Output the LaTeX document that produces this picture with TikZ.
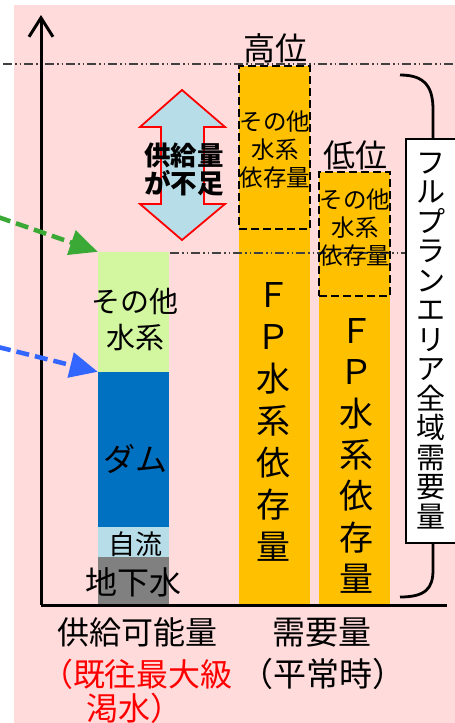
\documentclass[tikz,border=0pt]{standalone}
\usepackage{fontspec}
\setmainfont{Noto Sans CJK JP}
\usetikzlibrary{arrows.meta}
\definecolor{bgpink}{HTML}{FFDBDB}
\definecolor{lgreen}{HTML}{D3F6A0}
\definecolor{damblue}{HTML}{0070C0}
\definecolor{lblue}{HTML}{B7DEE8}
\definecolor{gwater}{HTML}{808080}
\definecolor{fporange}{HTML}{FFC000}
\definecolor{garr}{HTML}{3AA935}
\definecolor{barr}{HTML}{3366FF}
\definecolor{ddline}{HTML}{404040}
\tikzset{
  bar/.style={draw=none, inner sep=0pt, minimum width=71pt},
  dbox/.style={draw=black, dash pattern=on 8pt off 4pt, line width=1.8pt, inner sep=0pt, minimum width=71pt},
  dashdot/.style={draw=ddline, line width=1.1pt, dash pattern=on 9pt off 3pt on 1.5pt off 3pt on 1.5pt off 3pt},
  axisline/.style={line width=3pt, black},
  brk/.style={line width=2.8pt, black},
  ptr/.style={line width=4.5pt, dash pattern=on 13pt off 6pt, -{Triangle[length=28pt,width=25pt]}},
  lbl/.style={inner sep=0pt, align=center},
}
\begin{document}
\begin{tikzpicture}[x=1pt,y=-1pt]
\useasboundingbox (0,0) rectangle (455,723);
\fill[bgpink] (14,5) rectangle (455,723);

% supply bar
\node[bar, fill=lgreen, minimum height=120pt] (oth) at (133.5,312) {};
\node[bar, fill=damblue, minimum height=155pt] (dam) at (133.5,449.5) {};
\node[bar, fill=lblue, minimum height=30pt] (jiryu) at (133.5,542) {};
\node[bar, fill=gwater, minimum height=48pt] (gw) at (133.5,581) {};

% demand bars
\node[bar, fill=fporange, minimum height=539pt] (hibar) at (274.5,335.5) {};
\node[bar, fill=fporange, minimum height=433pt] (lobar) at (354.5,388.5) {};
\node[dbox, minimum height=163pt] (hibox) at (274.5,147.5) {};
\node[dbox, minimum height=124pt] (lobox) at (354.5,234) {};

% dash-dot level lines
\coordinate (l1a) at (3,64);
\coordinate (l1b) at (455,64);
\coordinate (l2a) at (170,253);
\coordinate (l2b) at (455,253);
\draw[dashdot] (l1a) -- (l1b);
\draw[dashdot] (l2a) -- (l2b);

% axes
\coordinate (O) at (41,605);
\coordinate (ytop) at (41,15);
\coordinate (xend) at (447,605);
\draw[axisline, -{Straight Barb[length=19pt,width=24pt,line width=3pt]}] (O) -- (ytop);
\draw[axisline] (O) -- (xend);

% double arrow (shortage)
\draw[red, line width=1.8pt, fill=lblue, line join=miter]
  (182,90) -- (225,127) -- (204,127) -- (204,204) -- (225,204) -- (182,240)
  -- (140,204) -- (161,204) -- (161,127) -- (140,127) -- cycle;
\node[lbl, font=\fontsize{26.5}{28}\selectfont\bfseries] (short) at (184,169) {供給量\\が不足};

% pointer arrows
\coordinate (gs) at (-2,217);
\coordinate (bs) at (-2,347);
\draw[ptr, garr] (gs) -- (oth.north west);
\draw[ptr, barr] (bs) -- (dam.north west);

% bracket and box
\node[draw=black, fill=white, line width=1.8pt, minimum width=54pt, minimum height=404pt, inner sep=0pt] (fpbox) at (433,341) {};
\coordinate (b1) at (400,75);
\coordinate (b2) at (400,597);
\draw[brk] (b1) .. controls (426,75) and (433,88) .. (433,110) -- (fpbox.north);
\draw[brk] (fpbox.south) -- (433,570) .. controls (433,588) and (426,597) .. (b2);
\node[lbl, font=\fontsize{29}{29.5}\selectfont] (fptxt) at (431,341) {フ\\ル\\プ\\ラ\\ン\\エ\\リ\\ア\\全\\域\\需\\要\\量};

% supply bar texts
\node[lbl, font=\fontsize{29}{36}\selectfont] (tOth) at (135,320) {その他\\水系};
\node[lbl, font=\fontsize{32}{33}\selectfont] (tDam) at (135,459) {ダム};
\node[lbl, font=\fontsize{27}{28}\selectfont] (tJir) at (135,544) {自流};
\node[lbl, font=\fontsize{32}{33}\selectfont] (tGw) at (133,582) {地下水};

% demand bar texts
\node[lbl, font=\fontsize{23.5}{28}\selectfont] (tHiO) at (275,150) {その他\\水系\\依存量};
\node[lbl, font=\fontsize{23.5}{28}\selectfont] (tLoO) at (355,228) {その他\\水系\\依存量};
\node[lbl, font=\fontsize{34}{42}\selectfont] (tHiF) at (273,421.5) {Ｆ\\Ｐ\\水\\系\\依\\存\\量};
\node[lbl, font=\fontsize{34}{41.3}\selectfont] (tLoF) at (356,456) {Ｆ\\Ｐ\\水\\系\\依\\存\\量};
\node[lbl, font=\fontsize{32}{33}\selectfont] (tHi) at (275,48) {高位};
\node[lbl, font=\fontsize{32}{33}\selectfont] (tLo) at (355,155) {低位};

% axis labels
\node[lbl, font=\fontsize{32}{33}\selectfont] (xs1) at (137,632) {供給可能量};
\node[lbl, font=\fontsize{32}{33}\selectfont, text=red] (xs2) at (137,674) {（既往最大級};
\node[lbl, font=\fontsize{32}{33}\selectfont, text=red] (xs3) at (134,708) {渇水）};
\node[lbl, font=\fontsize{33}{34}\selectfont] (xd1) at (322,633) {需要量};
\node[lbl, font=\fontsize{33}{34}\selectfont] (xd2) at (323,674) {（平常時）};
\end{tikzpicture}
\end{document}
